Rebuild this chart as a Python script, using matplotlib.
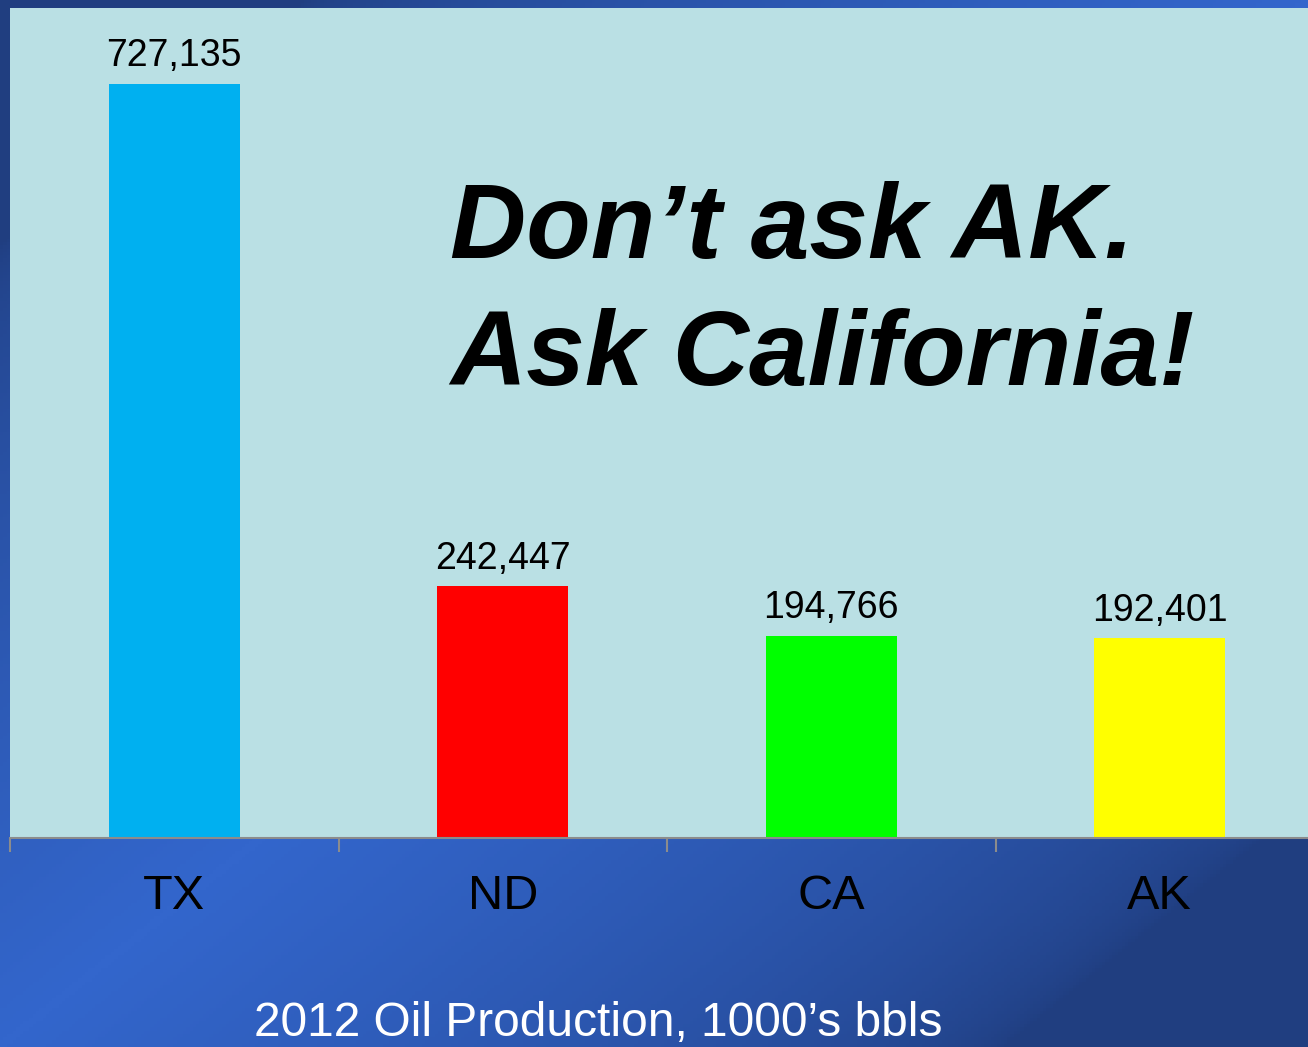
import numpy as np
import matplotlib.pyplot as plt
from matplotlib.colors import LinearSegmentedColormap

states = ['TX', 'ND', 'CA', 'AK']
production = [727135, 242447, 194766, 192401]
bar_colors = ['#00b0f0', '#ff0000', '#00ff00', '#ffff00']
title_lines = ['Don\u2019t ask AK.', 'Ask California!']
xlabel = '2012 Oil Production, 1000\u2019s bbls'

plt.rcParams['font.family'] = ['Liberation Sans', 'DejaVu Sans']

W, H = 1308, 1047
fig = plt.figure(figsize=(W / 100, H / 100), dpi=100)

# blue diagonal gradient background
bg = fig.add_axes([0, 0, 1, 1])
xx, yy = np.meshgrid(np.linspace(0, 1, 400), np.linspace(0, 1, 320))
t = (xx + yy) / 2
v = np.clip(1 - np.abs(t - 0.5) * 2.6, 0, 1) ** 0.6
cmap = LinearSegmentedColormap.from_list('bg', ['#203e80', '#3366cc'])
bg.imshow(v, cmap=cmap, aspect='auto', extent=[0, 1, 0, 1], origin='upper')
bg.axis('off')

# plot area (runs past the right edge like the original slide)
left, bottom = 10 / W, (H - 838) / H
ax = fig.add_axes([left, bottom, 1314 / W, 830 / H])
ax.set_facecolor('#bae0e4')
x = np.arange(len(states))
ax.bar(x, production, width=0.4, color=bar_colors, zorder=2)
ax.set_xlim(-0.5, len(states) - 0.5)
ax.set_ylim(0, 800000)
ax.set_yticks([])
for s in ['top', 'right', 'left']:
    ax.spines[s].set_visible(False)
ax.spines['bottom'].set_color('#8c8c8c')
ax.spines['bottom'].set_linewidth(1.5)
ax.set_xticks(x)
ax.set_xticklabels(states, fontsize=35)
ax.tick_params(axis='x', which='major', length=0, pad=26, colors='black')
ax.set_xticks(np.arange(len(states)) - 0.5, minor=True)
ax.tick_params(axis='x', which='minor', length=10, width=1.5, color='#8c8c8c')

for xi, val in zip(x, production):
    ax.annotate(f'{val:,}', (xi, val), xytext=(0, 7), textcoords='offset points',
                ha='center', va='bottom', fontsize=27, color='black')

for line, ypix in zip(title_lines, [258, 385]):
    fig.text(450 / W, 1 - ypix / H, line, ha='left', va='baseline', fontsize=76,
             fontweight='bold', fontstyle='italic', color='black')

fig.text(598 / W, 1 - 1036 / H, xlabel, ha='center', va='baseline',
         fontsize=34.5, color='white')

fig.savefig('out.png', dpi=100)
